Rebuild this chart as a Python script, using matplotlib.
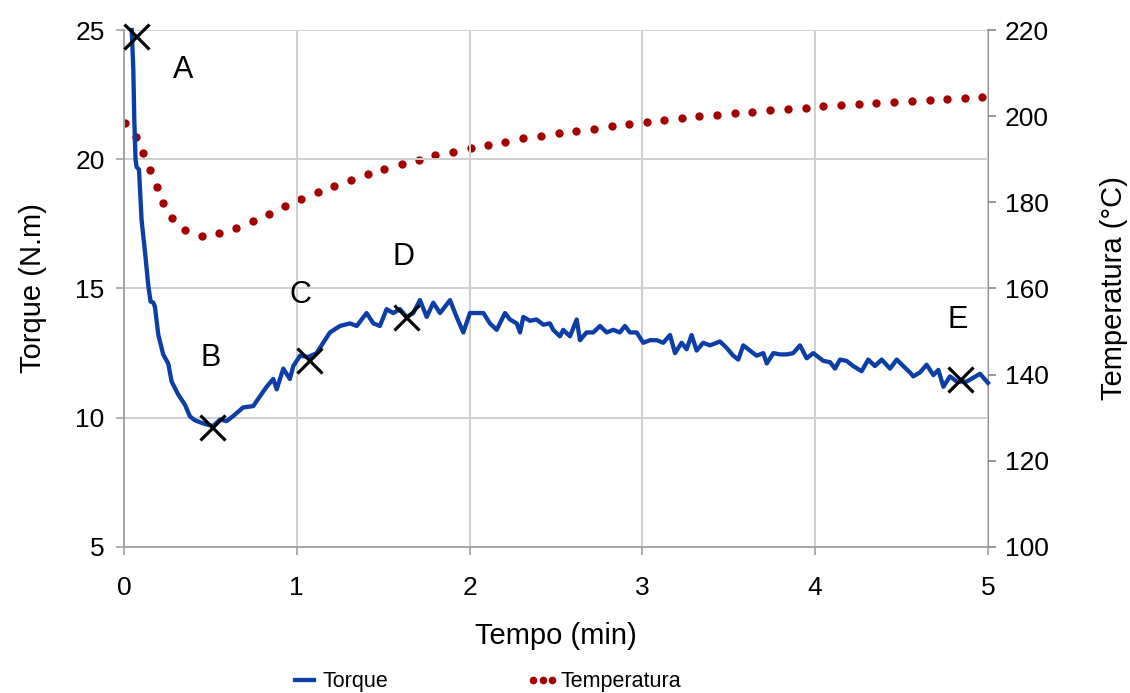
import matplotlib
matplotlib.use("Agg")
import matplotlib.pyplot as plt
from matplotlib.lines import Line2D

plt.rcParams['font.family'] = ['Liberation Sans', 'DejaVu Sans']

# ---- data ----
torque_data = [
    (0.045, 25.0), (0.054, 23.5), (0.060, 21.5), (0.067, 20.0), (0.073, 19.7),
    (0.087, 19.6), (0.102, 17.65), (0.122, 16.4), (0.141, 15.1), (0.154, 14.5),
    (0.170, 14.45), (0.179, 14.3), (0.199, 13.2), (0.227, 12.45), (0.256, 12.1),
    (0.276, 11.4), (0.314, 10.9), (0.353, 10.5), (0.382, 10.05), (0.411, 9.9),
    (0.450, 9.8), (0.478, 9.74), (0.517, 9.68), (0.556, 9.93), (0.594, 9.87),
    (0.633, 10.07), (0.690, 10.4), (0.748, 10.45), (0.787, 10.83), (0.826, 11.2),
    (0.864, 11.5), (0.884, 11.1), (0.922, 11.9), (0.960, 11.5), (0.980, 12.0),
    (1.019, 12.4), (1.067, 12.35), (1.115, 12.5), (1.153, 12.9), (1.192, 13.3),
    (1.250, 13.55), (1.308, 13.65), (1.347, 13.55), (1.404, 14.05), (1.443, 13.65),
    (1.481, 13.55), (1.520, 14.2), (1.558, 14.05), (1.597, 14.2), (1.636, 13.9),
    (1.674, 14.05), (1.713, 14.55), (1.752, 13.9), (1.790, 14.45), (1.829, 14.05),
    (1.887, 14.55), (1.925, 13.9), (1.964, 13.3), (2.002, 14.05), (2.080, 14.05),
    (2.118, 13.65), (2.157, 13.4), (2.205, 14.05), (2.234, 13.8), (2.273, 13.65),
    (2.292, 13.3), (2.311, 13.9), (2.350, 13.75), (2.388, 13.8), (2.427, 13.6),
    (2.465, 13.65), (2.484, 13.4), (2.523, 13.15), (2.542, 13.4), (2.581, 13.15),
    (2.620, 13.8), (2.639, 13.0), (2.677, 13.3), (2.716, 13.3), (2.755, 13.55),
    (2.793, 13.3), (2.832, 13.4), (2.870, 13.3), (2.899, 13.55), (2.928, 13.3),
    (2.967, 13.3), (3.005, 12.9), (3.044, 13.0), (3.083, 13.0), (3.121, 12.9),
    (3.160, 13.2), (3.189, 12.5), (3.227, 12.9), (3.256, 12.65), (3.285, 13.2),
    (3.314, 12.6), (3.352, 12.9), (3.391, 12.8), (3.449, 12.95), (3.488, 12.7),
    (3.526, 12.4), (3.555, 12.25), (3.584, 12.8), (3.623, 12.6), (3.661, 12.4),
    (3.700, 12.5), (3.720, 12.1), (3.758, 12.5), (3.796, 12.45), (3.835, 12.45),
    (3.873, 12.5), (3.912, 12.8), (3.951, 12.3), (3.989, 12.5), (4.028, 12.3),
    (4.047, 12.2), (4.086, 12.15), (4.115, 11.9), (4.144, 12.25), (4.182, 12.2),
    (4.220, 12.0), (4.269, 11.8), (4.307, 12.25), (4.346, 12.0), (4.385, 12.25),
    (4.433, 11.9), (4.472, 12.25), (4.510, 12.0), (4.549, 11.75), (4.568, 11.6),
    (4.606, 11.75), (4.645, 12.05), (4.684, 11.65), (4.713, 11.85), (4.742, 11.2),
    (4.780, 11.6), (4.819, 11.4), (4.877, 11.4), (4.915, 11.55), (4.954, 11.7),
    (5.000, 11.35),
]

temp_time = [0.006, 0.069, 0.112, 0.150, 0.189, 0.227, 0.276, 0.353, 0.450, 0.552,
             0.648, 0.745, 0.838, 0.934, 1.024, 1.121, 1.217, 1.314, 1.410, 1.506,
             1.607, 1.707, 1.802, 1.906, 2.006, 2.105, 2.205, 2.311, 2.413, 2.516,
             2.618, 2.718, 2.822, 2.922, 3.025, 3.125, 3.227, 3.329, 3.432, 3.536,
             3.636, 3.740, 3.843, 3.945, 4.045, 4.148, 4.252, 4.354, 4.458, 4.560,
             4.664, 4.763, 4.867, 4.967]
temp_values = [198.4, 195.2, 191.5, 187.5, 183.6, 179.8, 176.4, 173.6, 172.2, 172.9,
               174.0, 175.7, 177.3, 179.1, 180.8, 182.4, 183.8, 185.2, 186.6, 187.7,
               188.9, 189.8, 191.0, 191.7, 192.6, 193.3, 194.1, 194.9, 195.4, 196.1,
               196.6, 197.1, 197.7, 198.1, 198.6, 199.1, 199.6, 200.0, 200.3, 200.7,
               201.0, 201.4, 201.7, 202.0, 202.3, 202.6, 202.9, 203.1, 203.4, 203.6,
               203.8, 204.1, 204.3, 204.5]

point_labels = ['A', 'B', 'C', 'D', 'E']
point_time = [0.07, 0.51, 1.07, 1.63, 4.84]
point_torque = [24.75, 9.63, 12.25, 13.9, 11.48]
label_time = [0.34, 0.50, 1.02, 1.615, 4.826]
label_torque = [23.45, 12.33, 14.73, 16.2, 13.8]

x_ticks = [0, 1, 2, 3, 4, 5]
torque_ticks = [5, 10, 15, 20, 25]
temp_ticks = [100, 120, 140, 160, 180, 200, 220]

# ---- figure ----
fig = plt.figure(figsize=(11.3, 6.93), dpi=100)
ax = fig.add_axes([0.1097, 0.2107, 0.7646, 0.746])
ax2 = ax.twinx()

blue = '#0b3ea6'
red = '#a30000'
spine_col = '#9a9a9a'
grid_col = '#cfcfcf'

tx = [p[0] for p in torque_data]
ty = [p[1] for p in torque_data]

ax.set_xlim(0, 5)
ax.set_ylim(5, 25)
ax2.set_ylim(100, 220)
ax.set_xticks(x_ticks)
ax.set_yticks(torque_ticks)
ax2.set_yticks(temp_ticks)

ax.grid(True, color=grid_col, linewidth=1.4)
ax.set_axisbelow(True)

ax.spines['top'].set_visible(False)
ax2.spines['top'].set_visible(False)
ax.spines['left'].set_color(spine_col)
ax.spines['bottom'].set_color(spine_col)
ax2.spines['right'].set_color('#7a7a7a')
ax2.spines['left'].set_visible(False)
ax2.spines['bottom'].set_visible(False)
ax.spines['right'].set_visible(False)
for sp in ['left', 'bottom']:
    ax.spines[sp].set_linewidth(1.2)
ax2.spines['right'].set_linewidth(1.2)

ax.tick_params(axis='both', length=6, width=1.1, color=spine_col, labelsize=19, colors='black')
ax.tick_params(axis='x', pad=15, color=spine_col)
ax.tick_params(axis='y', pad=8, color=spine_col)
ax2.tick_params(axis='y', length=6, width=1.1, color='#7a7a7a', labelsize=19, pad=6)

ax2.plot(temp_time, temp_values, linestyle='none', marker='o', markersize=6,
         color=red, markeredgewidth=0, zorder=3)
ax.plot(tx, ty, color=blue, linewidth=3.1, zorder=4, clip_on=False, solid_joinstyle='round')
ax.set_zorder(ax2.get_zorder() + 1)
ax.patch.set_visible(False)

ax.plot(point_time, point_torque, linestyle='none', marker='x', markersize=18,
        markeredgewidth=2.3, color='black', zorder=5, clip_on=False)
for lab, lx, ly in zip(point_labels, label_time, label_torque):
    ax.text(lx, ly, lab, fontsize=22, ha='center', va='center', color='black')

ax.set_xlabel('Tempo (min)', fontsize=21, labelpad=16)
ax.set_ylabel('Torque (N.m)', fontsize=21, labelpad=20)
ax2.set_ylabel('Temperatura (°C)', fontsize=21, labelpad=37)

handles = [Line2D([], [], color=blue, linewidth=3.1),
           Line2D([], [], color=red, linestyle='none', marker='o', markersize=5.5,
                  markeredgewidth=0)]
fig.legend(handles, ['Torque', 'Temperatura'], loc='center',
           bbox_to_anchor=(485 / 1130, 1 - 682 / 693), ncol=2, frameon=False,
           fontsize=15.5, numpoints=3, handlelength=1.5, handletextpad=0.1,
           columnspacing=6.4)

fig.savefig('out.png', dpi=100)
